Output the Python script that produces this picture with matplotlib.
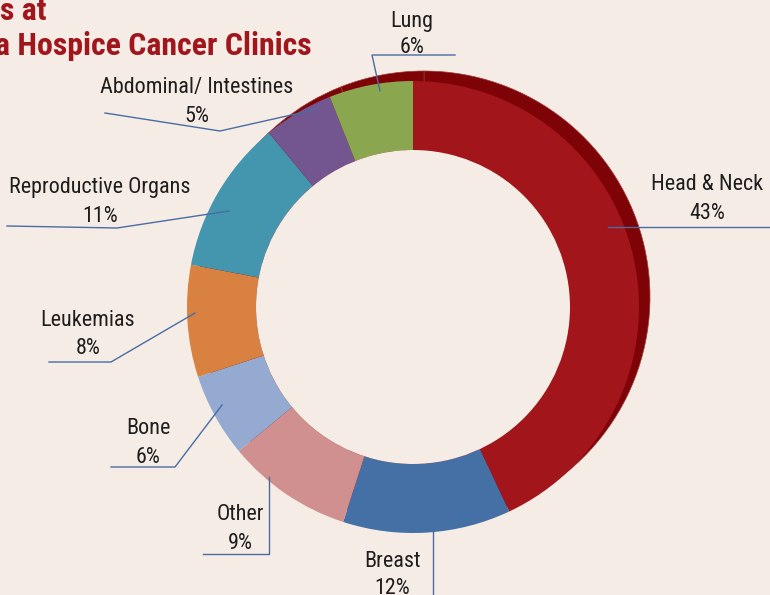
import os
import matplotlib
matplotlib.use("Agg")
import matplotlib.pyplot as plt
from matplotlib.patches import Circle
from matplotlib import font_manager as fm

categories = ["Head & Neck", "Breast", "Other", "Bone", "Leukemias",
              "Reproductive Organs", "Abdominal/ Intestines", "Lung"]
values = [43, 12, 9, 6, 8, 11, 5, 6]
colors = ["#A2151B", "#4470A6", "#D09090", "#94AAD0", "#D98140",
          "#4396AE", "#735690", "#8AA64F"]
title_lines = ["s at", "a Hospice Cancer Clinics"]

BG = "#F6ECE6"
SHADOW = "#7E0307"
LINE = "#4A6CA3"
TXT = "#1E1E1E"
TITLE = "#A0161C"


def pick_font(bold):
    bad = ["italic", "oblique", "mono", "serif", "light", "thin", "black",
           "semibold", "medium", "extra", "ultra", "demi", "heavy", "cjk"]
    found = []
    for f in fm.fontManager.ttflist:
        fn = os.path.basename(f.fname).lower()
        if not ("condensed" in fn or "narrow" in fn):
            continue
        if any(b in fn for b in bad):
            continue
        if bold != ("bold" in fn):
            continue
        found.append(f.fname)
    pref = ["liberationsansnarrow", "robotocondensed", "opensans", "dejavusanscondensed", "notosans"]
    for p in pref:
        for fn in found:
            if p in os.path.basename(fn).lower().replace("_", "").replace("-", ""):
                return fm.FontProperties(fname=fn)
    if found:
        return fm.FontProperties(fname=found[0])
    return fm.FontProperties(family=["Roboto", "DejaVu Sans"],
                             weight="bold" if bold else "normal")


fp_reg = pick_font(False)
fp_bold = pick_font(True)

fig = plt.figure(figsize=(7.7, 5.95), dpi=100, facecolor=BG)
ax = fig.add_axes([0, 0, 1, 1])
ax.set_facecolor(BG)
ax.set_xlim(0, 770)
ax.set_ylim(595, 0)
renderer = fig.canvas.get_renderer()


def fit_size(text, fp, target_px, lo, hi):
    p = fp.copy()
    p.set_size(20)
    t = ax.text(0, 0, text, fontproperties=p)
    w = t.get_window_extent(renderer=renderer).width
    t.remove()
    return max(lo, min(hi, 20 * target_px / w))


lab_size = fit_size("Reproductive Organs", fp_reg, 181, 11, 17)
title_size = fit_size("Hospice Cancer Clinics", fp_bold, 294, 15, 23)

cx, cy, R, r_in = 413, 307, 226, 157

# shadow (offset copy of ring, dark red)
ax.pie(values, startangle=-90, counterclock=True, center=(cx + 11, cy - 10),
       radius=R, colors=[SHADOW] * len(values),
       wedgeprops=dict(edgecolor="#9A3A3A", linewidth=0.5))
# main ring
ax.pie(values, startangle=-90, counterclock=True, center=(cx, cy),
       radius=R, colors=colors,
       wedgeprops=dict(width=R - r_in, edgecolor="none"))
ax.add_patch(Circle((cx, cy), r_in, facecolor=BG, edgecolor="none", zorder=3))

# labels: (center x, baseline name, baseline pct), leader polyline
labels = {
    "Head & Neck": ((707, 190, 219), [(608, 227), (770, 227)]),
    "Breast": ((392, 567, 594), [(433, 525), (433, 600)]),
    "Other": ((240, 520, 549), [(269, 477), (269, 554), (203, 554)]),
    "Bone": ((148, 434, 463), [(222, 405), (175, 467), (111, 467)]),
    "Leukemias": ((88, 326, 354), [(195, 313), (111, 362), (49, 362)]),
    "Reproductive Organs": ((100, 193, 222), [(229, 211), (117, 228), (7, 226)]),
    "Abdominal/ Intestines": ((197, 93, 122), [(318, 109), (220, 131), (105, 113)]),
    "Lung": ((412, 27, 53), [(380, 91), (372, 55), (455, 55)]),
}
lp = fp_reg.copy()
lp.set_size(lab_size)
for cat, val in zip(categories, values):
    (x, b1, b2), pts = labels[cat]
    ax.text(x, b1, cat, ha="center", va="baseline", fontproperties=lp, color=TXT, zorder=5)
    ax.text(x, b2, f"{val}%", ha="center", va="baseline", fontproperties=lp, color=TXT, zorder=5)
    xs, ys = zip(*pts)
    ax.plot(xs, ys, color=LINE, linewidth=1.0, zorder=4)

tp = fp_bold.copy()
tp.set_size(title_size)
ax.text(47, 20, title_lines[0], ha="right", va="baseline", fontproperties=tp, color=TITLE)
ax.text(312, 55, title_lines[1], ha="right", va="baseline", fontproperties=tp, color=TITLE)

ax.set_xlim(0, 770)
ax.set_ylim(595, 0)
ax.set_aspect("auto")
ax.axis("off")
fig.savefig("out.png", dpi=100, facecolor=BG)
